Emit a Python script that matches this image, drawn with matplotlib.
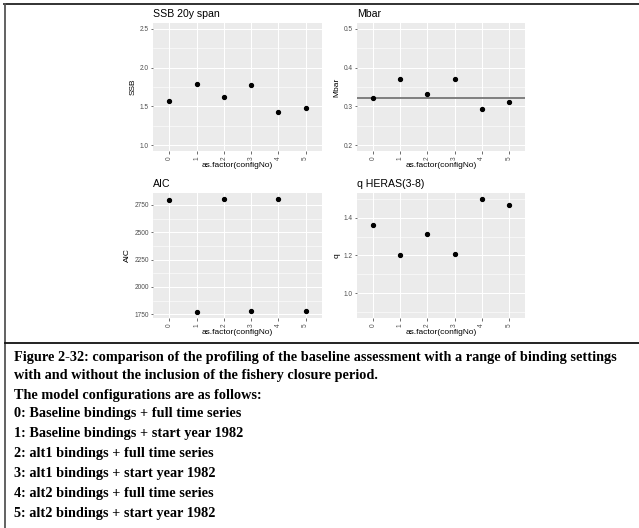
import matplotlib
matplotlib.use("Agg")
import matplotlib.pyplot as plt
from matplotlib.lines import Line2D
from matplotlib.ticker import FixedLocator

# ---------------- data ----------------
config_no = ["0", "1", "2", "3", "4", "5"]
ssb = [1.57, 1.785, 1.62, 1.77, 1.43, 1.475]
mbar = [0.322, 0.371, 0.332, 0.371, 0.292, 0.312]
mbar_ref = 0.322
aic = [2797, 1768, 2804, 1777, 2806, 1782]
q_heras = [1.36, 1.203, 1.312, 1.209, 1.497, 1.466]

panel_titles = ["SSB 20y span", "Mbar", "AIC", "q HERAS(3-8)"]
y_labels = ["SSB", "Mbar", "AIC", "q"]
x_label = "as.factor(configNo)"

caption_lines = [
    "Figure 2-32: comparison of the profiling of the baseline assessment with a range of binding settings",
    "with and without the inclusion of the fishery closure period.",
    "The model configurations are as follows:",
    "0: Baseline bindings + full time series",
    "1: Baseline bindings + start year 1982",
    "2: alt1 bindings + full time series",
    "3: alt1 bindings + start year 1982",
    "4: alt2 bindings + full time series",
    "5: alt2 bindings + start year 1982",
]

W, H = 639, 528
fig = plt.figure(figsize=(W / 100, H / 100), dpi=100)
fig.patch.set_facecolor("white")


def px_axes(left, top, right, bottom):
    return fig.add_axes([left / W, 1 - bottom / H, (right - left) / W, (bottom - top) / H])


def style_gg(ax, title, ylabel, ylim, major, minor, fmt):
    ax.set_facecolor("#EBEBEB")
    for s in ax.spines.values():
        s.set_visible(False)
    ax.set_xlim(-0.6, 5.6)
    ax.set_ylim(*ylim)
    ax.yaxis.set_major_locator(FixedLocator(major))
    ax.yaxis.set_minor_locator(FixedLocator(minor))
    ax.set_yticklabels([fmt(v) for v in major])
    ax.grid(True, which="major", color="white", linewidth=0.75, zorder=0)
    ax.grid(True, which="minor", axis="y", color="white", linewidth=0.4, zorder=0)
    ax.set_axisbelow(True)
    ax.tick_params(axis="both", which="major", length=1.8, width=0.5, color="#333333",
                   labelsize=4.7, labelcolor="#4D4D4D", pad=1.2)
    ax.tick_params(axis="y", which="minor", length=0)
    ax.tick_params(axis="x", labelrotation=90, pad=2)
    ax.set_title(title, loc="left", fontsize=7.6, fontfamily="Liberation Sans", pad=4)
    ax.set_ylabel(ylabel, fontsize=6.0, fontfamily="Liberation Sans", labelpad=2.5)
    ax.set_xlabel(x_label, fontsize=6.0, fontfamily="Liberation Sans", labelpad=1.5)
    for lab in ax.get_xticklabels() + ax.get_yticklabels():
        lab.set_fontfamily("Liberation Sans")


xpos = list(range(len(config_no)))
ms = 2.8

ax1 = px_axes(153, 23, 322, 151)
ax1.plot(xpos, ssb, "o", color="black", ms=ms, zorder=3)
ax1.set_xticks(xpos)
ax1.set_xticklabels(config_no)
style_gg(ax1, panel_titles[0], y_labels[0], (0.925, 2.575),
         [1.0, 1.5, 2.0, 2.5], [1.25, 1.75, 2.25], lambda v: f"{v:.1f}")

ax2 = px_axes(357, 23, 525, 151)
ax2.axhline(mbar_ref, color="#7F7F7F", linewidth=1.4, zorder=2)
ax2.plot(xpos, mbar, "o", color="black", ms=ms, zorder=3)
ax2.set_xticks(xpos)
ax2.set_xticklabels(config_no)
style_gg(ax2, panel_titles[1], y_labels[1], (0.185, 0.515),
         [0.2, 0.3, 0.4, 0.5], [0.25, 0.35, 0.45], lambda v: f"{v:.1f}")

ax3 = px_axes(153, 193, 322, 318)
ax3.plot(xpos, aic, "o", color="black", ms=ms, zorder=3)
ax3.set_xticks(xpos)
ax3.set_xticklabels(config_no)
style_gg(ax3, panel_titles[2], y_labels[2], (1716, 2858),
         [1750, 2000, 2250, 2500, 2750], [1875, 2125, 2375, 2625], lambda v: f"{v:.0f}")

ax4 = px_axes(357, 193, 525, 318)
ax4.plot(xpos, q_heras, "o", color="black", ms=ms, zorder=3)
ax4.set_xticks(xpos)
ax4.set_xticklabels(config_no)
style_gg(ax4, panel_titles[3], y_labels[3], (0.87, 1.53),
         [1.0, 1.2, 1.4], [0.9, 1.1, 1.3, 1.5], lambda v: f"{v:.1f}")

# ---------------- page frame lines ----------------
def hline_px(x0, x1, y, color, lw):
    fig.add_artist(Line2D([x0 / W, x1 / W], [1 - y / H, 1 - y / H], color=color,
                          linewidth=lw, transform=fig.transFigure))


def vline_px(x, y0, y1, color, lw):
    fig.add_artist(Line2D([x / W, x / W], [1 - y0 / H, 1 - y1 / H], color=color,
                          linewidth=lw, transform=fig.transFigure))


hline_px(4, 639, 4, "#222222", 1.3)
vline_px(5, 4, 528, "#555555", 1.3)
hline_px(5, 639, 343, "#111111", 1.3)

# ---------------- caption ----------------
cap_y = [358, 375, 395, 414, 434, 454, 474, 494, 514]
fs = 10.0
t0 = fig.text(14 / W, 1 - cap_y[0] / H, caption_lines[0], fontsize=fs,
              fontfamily="Liberation Serif", fontweight="bold", va="center", ha="left")
fig.canvas.draw()
w = t0.get_window_extent().width
fs = fs * 600 / w
t0.set_fontsize(fs)
for line, y in zip(caption_lines[1:], cap_y[1:]):
    fig.text(14 / W, 1 - y / H, line, fontsize=fs, fontfamily="Liberation Serif",
             fontweight="bold", va="center", ha="left")

fig.savefig("out.png", dpi=100, facecolor="white")
